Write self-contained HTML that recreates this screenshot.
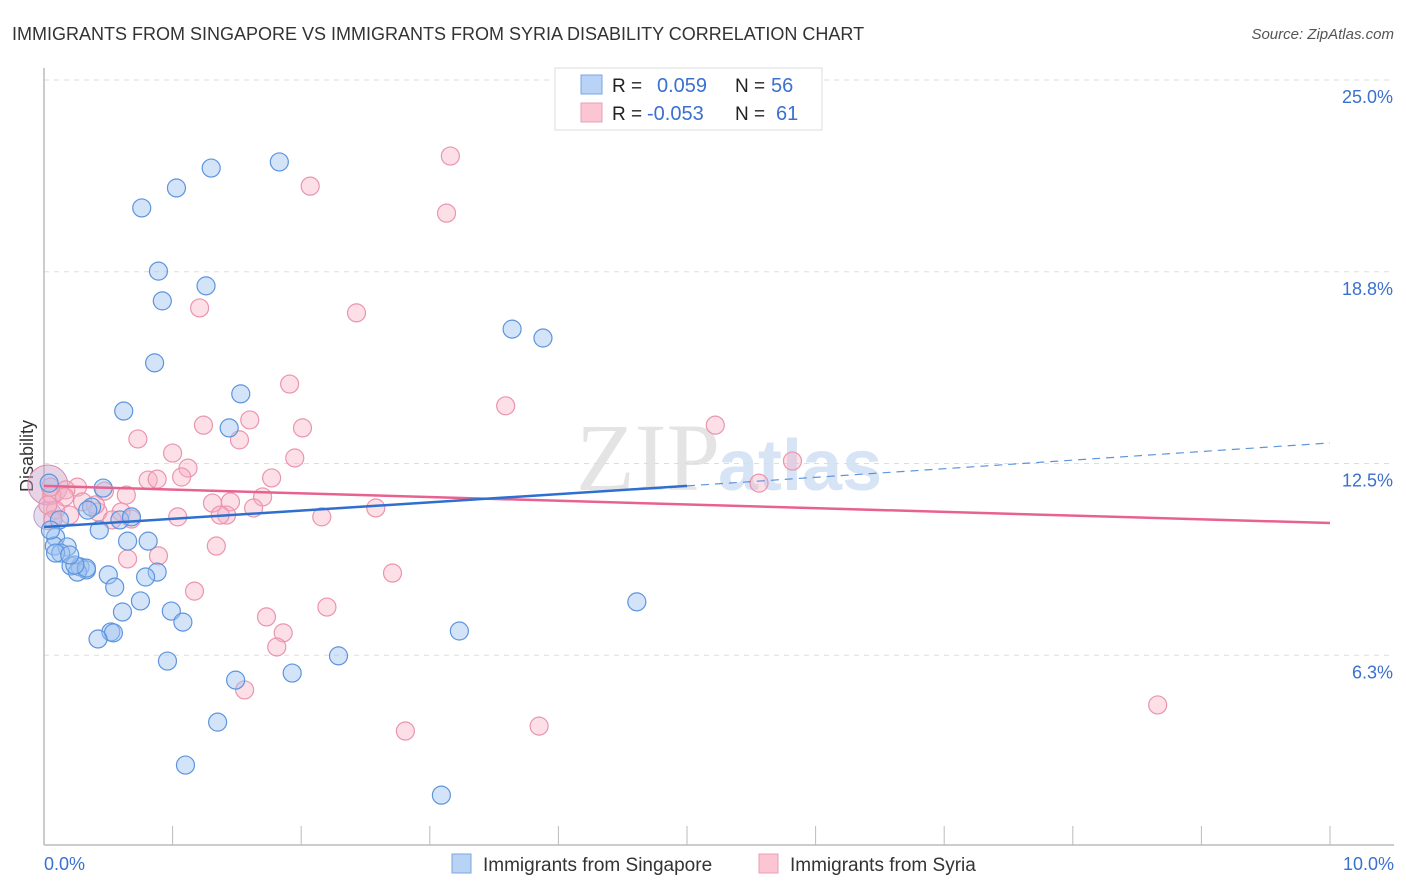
<!DOCTYPE html>
<html><head><meta charset="utf-8"><style>
body{margin:0;background:#fff;font-family:"Liberation Sans",sans-serif;}
svg{display:block}
</style></head><body>
<svg id="chart" width="1406" height="892">
<text x="12" y="40" font-size="18" fill="#333">IMMIGRANTS FROM SINGAPORE VS IMMIGRANTS FROM SYRIA DISABILITY CORRELATION CHART</text>
<text x="1394" y="39" font-size="15" fill="#555" font-style="italic" text-anchor="end">Source: ZipAtlas.com</text>
<text x="33" y="456" font-size="18" fill="#333" text-anchor="middle" transform="rotate(-90 33 456)">Disability</text>
<text x="720" y="490" font-size="96" fill="#e4e4e4" font-family="Liberation Serif,serif" text-anchor="end">ZIP</text>
<text x="718" y="490" font-size="72" fill="#d6e4f5" font-weight="bold">atlas</text>
<g id="grid"></g>
<g id="axes"></g>
<g id="marks"></g>
<g id="legend-top">
<rect x="555" y="68" width="267" height="62" fill="#fff" stroke="#ddd"/>
<rect x="581" y="75" width="21" height="19" fill="#b8d3f5" stroke="#7aa6e0"/>
<rect x="581" y="103" width="21" height="19" fill="#fbc5d3" stroke="#eba0b6"/>
<text x="612" y="92" font-size="19" fill="#222">R = </text>
<text x="657" y="92" font-size="20" fill="#3a70d0">0.059</text>
<text x="735" y="92" font-size="19" fill="#222">N = </text>
<text x="771" y="92" font-size="20" fill="#3a70d0">56</text>
<text x="612" y="120" font-size="19" fill="#222">R = </text>
<text x="647" y="120" font-size="20" fill="#3a70d0">-0.053</text>
<text x="735" y="120" font-size="19" fill="#222">N = </text>
<text x="776" y="120" font-size="20" fill="#3a70d0">61</text>
</g>
<g>
<rect x="452" y="854" width="19" height="19" fill="#b8d3f5" stroke="#7aa6e0"/>
<text x="483" y="871" font-size="19" fill="#333">Immigrants from Singapore</text>
<rect x="759" y="854" width="19" height="19" fill="#fbc5d3" stroke="#eba0b6"/>
<text x="790" y="871" font-size="19" fill="#333">Immigrants from Syria</text>
</g>
</svg>
<script>
const xTicks=[0,1,2,3,4,5,6,7,8,9,10];
const yTicks=[6.25,12.5,18.75,25];
const yTickLabels=["6.3%","12.5%","18.8%","25.0%"];
const xEndLabels=["0.0%","10.0%"];
const singX=[1.30,1.83,1.03,0.76,0.89,1.26,0.92,3.64,3.88,0.86,1.53,0.62,1.44,0.46,0.04,0.37,0.59,0.68,0.43,0.09,0.65,0.81,0.08,0.18,0.13,0.21,0.28,0.33,0.26,0.50,0.88,0.79,0.55,0.75,4.61,0.61,0.99,1.08,3.23,0.52,0.54,0.42,2.29,0.96,1.93,1.49,1.35,1.10,3.09,0.34,0.12,0.05,0.33,0.24,0.09,0.20];
const singY=[22.13,22.33,21.48,20.83,18.77,18.29,17.80,16.88,16.59,15.78,14.77,14.21,13.66,11.70,11.86,11.08,10.66,10.76,10.33,10.10,9.97,9.97,9.81,9.78,9.58,9.16,9.13,9.03,8.96,8.87,8.96,8.80,8.47,8.02,7.99,7.66,7.69,7.33,7.04,7.01,6.98,6.78,6.23,6.06,5.67,5.44,4.07,2.67,1.69,10.98,10.66,10.33,9.09,9.19,9.58,9.52];
const syrX=[3.16,2.07,3.13,1.21,2.43,1.91,3.59,5.22,1.60,1.24,2.01,0.73,1.52,1.00,1.95,5.82,1.12,0.81,1.07,1.77,0.88,5.56,0.26,0.17,0.47,0.64,1.70,0.06,0.16,1.31,1.45,0.30,2.58,1.63,0.09,0.60,0.42,1.42,1.37,1.04,2.16,0.68,0.20,0.03,0.07,0.65,1.34,0.89,2.71,1.17,2.20,1.73,1.86,1.81,1.56,8.66,2.81,3.85,0.05,0.53,0.40];
const syrY=[22.52,21.54,20.66,17.57,17.41,15.09,14.38,13.75,13.92,13.75,13.66,13.30,13.27,12.84,12.68,12.58,12.35,11.96,12.06,12.03,11.99,11.86,11.73,11.64,11.60,11.47,11.41,11.47,11.41,11.21,11.25,11.25,11.05,11.05,10.98,10.92,10.92,10.82,10.82,10.76,10.76,10.69,10.82,11.15,10.66,9.39,9.81,9.49,8.93,8.34,7.82,7.50,6.98,6.52,5.12,4.63,3.78,3.94,11.73,10.66,11.15];
const singTrend=[10.43,11.77,13.17]; // at x=0,5,10
const syrTrend=[11.77,10.56]; // at x=0,10
const X=v=>44+v*128.6;
const Y=v=>847-v*30.68;
const NS="http://www.w3.org/2000/svg";
function mk(parent,tag,attrs){const e=document.createElementNS(NS,tag);for(const k in attrs)e.setAttribute(k,attrs[k]);document.getElementById(parent).appendChild(e);return e;}
yTicks.forEach((t,i)=>{
 const g=mk('grid','line',{x1:44,x2:1394,y1:Y(t),y2:Y(t),stroke:'#ddd','stroke-dasharray':'5,5'});
 
 
 const l=mk('axes','text',{x:1393,y:Y(t)+23,'font-size':18,fill:'#3a70d0','text-anchor':'end'});
 l.textContent=yTickLabels[i];
 
 
});
const ax=mk('axes','line',{x1:44,x2:1394,y1:845,y2:845,stroke:'#bbb','stroke-width':1.5});


const ay=mk('axes','line',{x1:44,x2:44,y1:68,y2:845,stroke:'#bbb','stroke-width':1.5});


xTicks.forEach(t=>{
 const k=mk('axes','line',{x1:X(t),x2:X(t),y1:826,y2:845,stroke:'#bbb'});
 
 
});
const xl0=mk('axes','text',{x:44,y:870,'font-size':18,fill:'#3a70d0'});
xl0.textContent=xEndLabels[0];


const xl1=mk('axes','text',{x:1394,y:870,'font-size':18,fill:'#3a70d0','text-anchor':'end'});
xl1.textContent=xEndLabels[1];


// big overlapping points at x=0
const b1=mk('marks','circle',{cx:X(0.03),cy:Y(11.8),r:20,fill:'rgba(200,160,200,0.45)',stroke:'#d88ab0'});


const b2=mk('marks','circle',{cx:X(0.03),cy:Y(10.8),r:14,fill:'rgba(190,170,210,0.4)',stroke:'#b89ad0'});


syrX.forEach((v,i)=>{
 const c=mk('marks','circle',{cx:X(v),cy:Y(syrY[i]),r:9,fill:'rgba(247,175,196,0.4)',stroke:'#eb94ae','stroke-width':1.2});
 
 
});
singX.forEach((v,i)=>{
 const c=mk('marks','circle',{cx:X(v),cy:Y(singY[i]),r:9,fill:'rgba(160,195,240,0.45)',stroke:'#5d94de','stroke-width':1.2});
 
 
});
const ps=mk('marks','line',{x1:X(0),y1:Y(syrTrend[0]),x2:X(10),y2:Y(syrTrend[1]),stroke:'#e8628f','stroke-width':2.5});


const bs=mk('marks','line',{x1:X(0),y1:Y(singTrend[0]),x2:X(5),y2:Y(singTrend[1]),stroke:'#2f6fd0','stroke-width':2.5});


const bd=mk('marks','line',{x1:X(5),y1:Y(singTrend[1]),x2:X(10),y2:Y(singTrend[2]),stroke:'#5d94de','stroke-width':1.2,'stroke-dasharray':'8,6'});


</script>
</body></html>
